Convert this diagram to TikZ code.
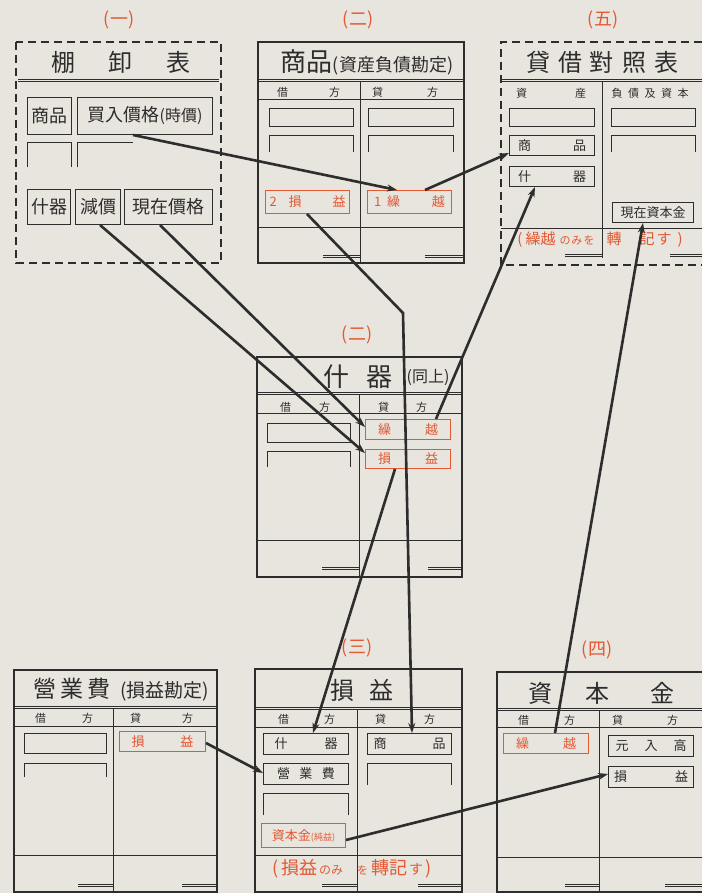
\documentclass[tikz,border=0pt]{standalone}
\usepackage{fontspec}
\newfontfamily\jp{Noto Sans CJK JP}
\usetikzlibrary{arrows.meta}
\definecolor{paper}{RGB}{232,228,222}
\definecolor{ink}{RGB}{45,45,45}
\definecolor{redc}{RGB}{228,88,50}
\newcommand\fs[1]{\fontsize{#1}{#1}\selectfont}
\newcommand\spr[2]{\hbox to #1pt{#2}}
\newcommand\cellat[7]{\node[#6, minimum width={#4-#2}, minimum height={#5-#3}] (#1) at (#2,#3) {#7};}
\newcommand\dbl[3]{\draw[thinl] (#1,#3) -- (#2,#3) (#1,#3+2.2) -- (#2,#3+2.2);}
\begin{document}
\begin{tikzpicture}[x=1pt,y=-1pt,
  cell/.style={draw=ink, line width=1pt, inner sep=0pt, anchor=north west, text=ink, font=\jp\fs{13}},
  rcell/.style={cell, draw=redc, text=redc},
  bigcell/.style={cell, font=\jp\fs{18}},
  frame/.style={draw=ink, line width=1.1pt},
  thinl/.style={draw=ink, line width=0.8pt},
  dashframe/.style={draw=ink, line width=1.4pt, dash pattern=on 8pt off 5pt},
  arr/.style={draw=ink, line width=2.6pt, -{Stealth[length=10pt,width=7pt]}},
  lbl/.style={text=redc, font=\jp\fs{18}, inner sep=0pt},
  ttl/.style={text=ink, font=\jp\fs{24}, inner sep=0pt},
  hdr/.style={text=ink, font=\jp\fs{11}, inner sep=0pt},
  rtext/.style={text=redc, font=\jp\fs{15}, inner sep=0pt}]
\fill[paper] (0,0) rectangle (702,893);
\useasboundingbox (0,0) rectangle (702,893);

% ---------- (一) 棚卸表 ----------
\node[lbl] (l1) at (119,20) {(一)};
\draw[dashframe] (16,42) rectangle (221,263);
\node[ttl] (t1) at (121,62) {棚\hspace{33pt}卸\hspace{34pt}表};
\dbl{18}{219}{79}
\cellat{b1sho}{27}{97}{71}{134}{bigcell}{商品}
\cellat{b1kai}{77}{97}{212}{134}{bigcell}{買入價格{\fs{16}(時價)}}
\draw[thinl] (27,167) |- (71,142) -- (71,167);
\draw[thinl] (77,167) |- (133,142);
\cellat{b1ju}{27}{189}{70}{224}{bigcell}{什器}
\cellat{b1gen}{75}{189}{120}{224}{bigcell}{減價}
\cellat{b1now}{124}{189}{212}{224}{bigcell}{現在價格}

% ---------- (二) 商品 ----------
\node[lbl] (l2) at (358,20) {(二)};
\draw[frame] (258,42) rectangle (464,263);
\node[ttl] (t2) at (367,62) {{\fs{26}商品}{\fs{18}(資産負債勘定)}};
\dbl{258}{464}{79}
\node[hdr] (h2a) at (308.5,92) {\spr{63}{借\hfil 方}};
\node[hdr] (h2b) at (405,92) {\spr{66}{貸\hfil 方}};
\draw[thinl] (258,99) -- (464,99);
\draw[thinl] (360,81) -- (360,263);
\draw[thinl] (269,108) rectangle (353,126);
\draw[thinl] (269,152) |- (353,135) -- (353,152);
\draw[thinl] (368,108) rectangle (453,126);
\draw[thinl] (368,152) |- (453,135) -- (453,152);
\cellat{r1son}{265}{190}{349}{213}{rcell}{\spr{76}{2\hspace{12pt}損\hfil 益}}
\cellat{r1kur}{367}{190}{451}{213}{rcell}{\spr{71}{1\hspace{6pt}繰\hfil 越}}
\draw[thinl] (258,227) -- (464,227);
\dbl{323}{360}{255}
\dbl{425}{464}{255}

% ---------- (五) 貸借對照表 ----------
\node[lbl] (l5) at (603,20) {(五)};
\draw[dashframe] (702,42) -- (501,42) -- (501,265) -- (702,265);
\node[ttl] (t5) at (602,62) {貸\hspace{8pt}借\hspace{8pt}對\hspace{8pt}照\hspace{8pt}表};
\dbl{501}{702}{79}
\node[hdr] (h5a) at (551,93) {\spr{70}{資\hfil 産}};
\node[hdr] (h5b) at (650,93) {\spr{77}{負\hfil 債\hfil 及\hfil 資\hfil 本}};
\draw[thinl] (602,81) -- (602,258);
\draw[thinl] (509,108) rectangle (594,126);
\cellat{b5sho}{509}{135}{594}{155}{cell}{\spr{68}{商\hfil 品}}
\cellat{b5ju}{509}{166}{594}{186}{cell}{\spr{68}{什\hfil 器}}
\draw[thinl] (611,108) rectangle (695,126);
\draw[thinl] (611,152) |- (695,135) -- (695,152);
\cellat{b5cap}{612}{202}{693}{222}{cell}{現在資本金}
\draw[thinl] (501,228) -- (702,228);
\node[rtext] (n5) at (600,240) {(\hspace{3pt}繰越\hspace{4pt}{\fs{11}の\hspace{1pt}み\hspace{1pt}を}\hspace{12pt}轉\hspace{18pt}記\hspace{2pt}す\hspace{6pt})};
\dbl{565}{602}{254}
\dbl{670}{702}{254}

% ---------- (二) 什器 ----------
\node[lbl] (l6) at (357,335) {(二)};
\draw[frame] (257,357) rectangle (462,577);
\node[ttl,font=\jp\fs{26}] (t6) at (358,377) {什\hspace{17pt}器};
\node[ttl,font=\jp\fs{16}] (t6b) at (428,377) {(同上)};
\dbl{257}{462}{392}
\node[hdr] (h6a) at (305,407) {\spr{50}{借\hfil 方}};
\node[hdr] (h6b) at (402.5,407) {\spr{49}{貸\hfil 方}};
\draw[thinl] (257,413) -- (462,413);
\draw[thinl] (359,394) -- (359,577);
\draw[thinl] (267,423) rectangle (350,442);
\draw[thinl] (267,467) |- (350,451) -- (350,467);
\cellat{r2kur}{365}{419}{450}{439}{rcell}{\spr{60}{繰\hfil 越}}
\cellat{r2son}{365}{449}{450}{468}{rcell}{\spr{60}{損\hfil 益}}
\draw[thinl] (257,540) -- (462,540);
\dbl{322}{359}{567}
\dbl{428}{462}{567}

% ---------- 營業費 ----------
\draw[frame] (14,670) rectangle (217,892);
\node[ttl] (t7) at (121,690) {{\fs{23}營\hspace{4pt}業\hspace{4pt}費}\hspace{10pt}{\fs{19}(損益勘定)}};
\dbl{14}{217}{706}
\node[hdr] (h7a) at (64,718) {\spr{58}{借\hfil 方}};
\node[hdr] (h7b) at (161.5,718) {\spr{63}{貸\hfil 方}};
\draw[thinl] (14,726) -- (217,726);
\draw[thinl] (113,708) -- (113,892);
\draw[thinl] (24,733) rectangle (106,753);
\draw[thinl] (24,777) |- (106,763) -- (106,777);
\cellat{r3son}{119}{731}{205}{751}{rcell}{\spr{62}{損\hfil 益}}
\draw[thinl] (14,855) -- (217,855);
\dbl{78}{113}{884}
\dbl{182}{217}{884}

% ---------- (三) 損益 ----------
\node[lbl] (l8) at (357,648) {(三)};
\draw[frame] (255,669) rectangle (462,892);
\node[ttl] (t8) at (362,690) {損\hspace{16pt}益};
\dbl{255}{462}{707}
\node[hdr] (h8a) at (306.5,719) {\spr{57}{借\hfil 方}};
\node[hdr] (h8b) at (405,719) {\spr{60}{貸\hfil 方}};
\draw[thinl] (255,727) -- (462,727);
\draw[thinl] (357,709) -- (357,892);
\cellat{b3ju}{263}{733}{348}{754}{cell}{\spr{63}{什\hfil 器}}
\cellat{b3ei}{263}{763}{348}{784}{cell}{\spr{58}{營\hfil 業\hfil 費}}
\draw[thinl] (263,815) |- (348,793) -- (348,815);
\cellat{r3cap}{261}{823}{345}{847}{rcell}{資本金{\fs{9}(純益)}}
\cellat{b3sho}{367}{733}{451}{754}{cell}{\spr{72}{商\hfil 品}}
\draw[thinl] (367,785) |- (451,763) -- (451,785);
\draw[thinl] (255,855) -- (462,855);
\node[rtext,font=\jp\fs{18}] (n8) at (352,869) {(\hspace{2pt}損益\hspace{2pt}{\fs{12}のみ}\hspace{14pt}{\fs{11}を}\hspace{3pt}轉記\hspace{2pt}{\fs{14}す}\hspace{2pt})};
\dbl{322}{357}{884}
\dbl{418}{462}{884}

% ---------- (四) 資本金 ----------
\node[lbl] (l9) at (597,650) {(四)};
\draw[frame] (702,672) -- (497,672) -- (497,892) -- (702,892);
\node[ttl] (t9) at (601,693) {資\hspace{34pt}本\hspace{40pt}金};
\dbl{497}{702}{708}
\node[hdr] (h9a) at (546.5,720) {\spr{57}{借\hfil 方}};
\node[hdr] (h9b) at (645,720) {\spr{66}{貸\hfil 方}};
\draw[thinl] (497,727) -- (702,727);
\draw[thinl] (599,710) -- (599,892);
\cellat{r4kur}{503}{733}{588}{753}{rcell}{\spr{60}{繰\hfil 越}}
\cellat{b4gen}{608}{735}{693}{756}{cell}{\spr{71}{元\hfil 入\hfil 高}}
\cellat{b4son}{608}{766}{693}{787}{cell}{\spr{74}{損\hfil 益}}
\draw[thinl] (497,857) -- (702,857);
\dbl{565}{599}{884}
\dbl{665}{702}{884}

% ---------- connectors ----------
\coordinate (k6) at (403,313);
\draw[arr] ([xshift=56pt]b1kai.south west) -- ([xshift=30pt]r1kur.north west);
\draw[arr] ([xshift=58pt]r1kur.north west) -- ([yshift=3pt]b5sho.south west);
\draw[arr] ([xshift=25pt]b1gen.south west) -- ([yshift=-4pt]r2son.north west);
\draw[arr] ([xshift=36pt]b1now.south west) -- ([yshift=-8pt]r2kur.north west);
\draw[arr] ([xshift=71pt]r2kur.north west) -- ([xshift=26pt]b5ju.south west);
\draw[arr] ([xshift=42pt]r1son.south west) -- (k6) -- ([xshift=45pt]b3sho.north west);
\draw[arr] ([xshift=30pt]r2son.south west) -- ([xshift=50pt]b3ju.north west);
\draw[arr] ([yshift=-12pt]r3son.north east) -- ([yshift=-10pt]b3ei.north west);
\draw[arr] ([yshift=-17pt]r3cap.north east) -- ([yshift=-8pt]b4son.north west);
\draw[arr] ([xshift=52pt]r4kur.north west) -- ([xshift=31pt]b5cap.south west);
\end{tikzpicture}
\end{document}
